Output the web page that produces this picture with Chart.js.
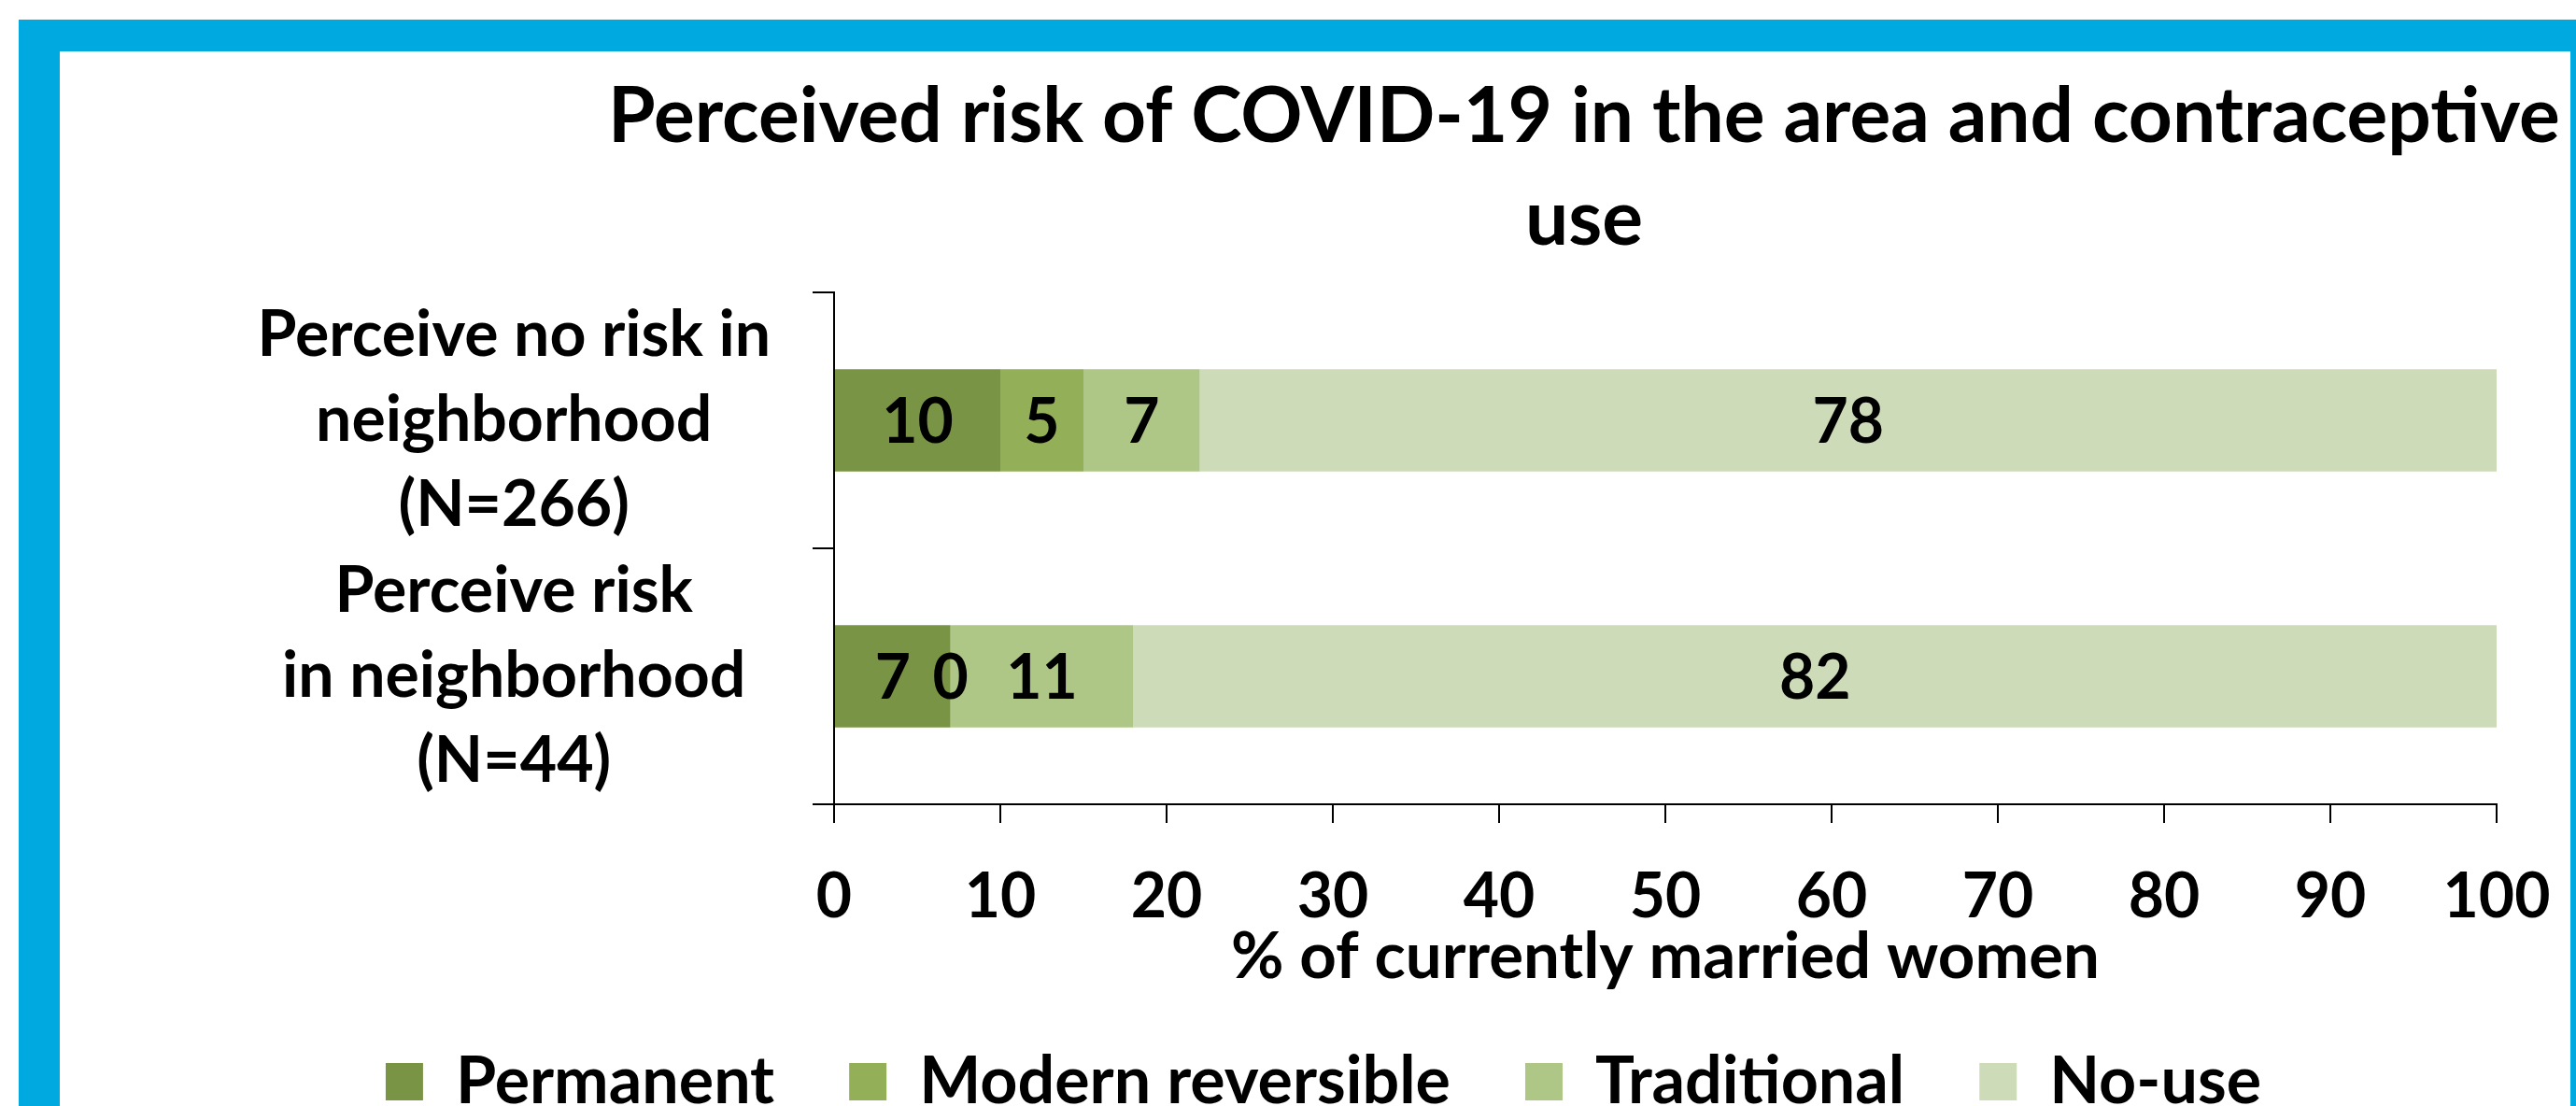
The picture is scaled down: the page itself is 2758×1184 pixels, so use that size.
<!DOCTYPE html>
<html>
<head>
<meta charset="utf-8">
<title>Perceived risk of COVID-19 in the area and contraceptive use</title>
<script src="https://cdn.jsdelivr.net/npm/chart.js@4.4.0/dist/chart.umd.min.js"></script>
<style>
  html, body { margin: 0; padding: 0; background: #fff; overflow: hidden; }
  body { width: 2758px; height: 1184px; position: relative; }
  #frame {
    position: absolute; left: 20px; top: 21px;
    width: 2688px; height: 1300px;
    border-style: solid; border-color: #00a9e0;
    border-width: 34px 44px 0 44px;
  }
  #chart-box { position: absolute; left: 64px; top: 55px; width: 2688px; height: 1148px; }
</style>
</head>
<body>
<div id="frame"></div>
<div id="chart-box"><canvas id="riskChart"></canvas></div>
<script>
const titleLines = ['Perceived risk of COVID-19 in the area and contraceptive', 'use'];
const categories = [
    ['Perceive no risk in', 'neighborhood', '(N=266)'],
    ['Perceive risk', 'in neighborhood', '(N=44)']
];
const seriesNames = ['Permanent', 'Modern reversible', 'Traditional', 'No-use'];
const permanent = [10, 7];
const modernReversible = [5, 0];
const traditional = [7, 11];
const noUse = [78, 82];
const xMin = 0;
const xMax = 100;
const xStep = 10;
const axisTitle = '% of currently married women';

const colors = ['#7a9445', '#93af58', '#aec786', '#cddbb8'];
const fontFamily = 'Lato, "Open Sans", sans-serif';

// title is centred a bit right of the canvas middle, like the original
const chartTitle = {
    id: 'chartTitle',
    afterDraw(chart) {
        const ctx = chart.ctx;
        ctx.save();
        ctx.font = `bold 82px ${fontFamily}`;
        ctx.fillStyle = '#000';
        ctx.textAlign = 'center';
        ctx.textBaseline = 'alphabetic';
        ctx.fillText(titleLines[0], 1632, 97);
        ctx.fillText(titleLines[1], 1632, 207);
        ctx.restore();
    }
};

// value written in the middle of every segment, zeros included
const valueLabels = {
    id: 'valueLabels',
    afterDatasetsDraw(chart) {
        const ctx = chart.ctx;
        ctx.save();
        ctx.font = `bold 66px ${fontFamily}`;
        ctx.fillStyle = '#000';
        ctx.textAlign = 'center';
        ctx.textBaseline = 'middle';
        chart.data.datasets.forEach((ds, i) => {
            chart.getDatasetMeta(i).data.forEach((bar, j) => {
                const p = bar.getProps(['x', 'y', 'base'], true);
                ctx.fillText(String(ds.data[j]), (p.x + p.base) / 2, p.y + 3);
            });
        });
        ctx.restore();
    }
};

const seriesData = [permanent, modernReversible, traditional, noUse];

const ctx = document.getElementById('riskChart').getContext('2d');
new Chart(ctx, {
    type: 'bar',
    data: {
        labels: categories,
        datasets: seriesNames.map((name, i) => ({
            label: name,
            data: seriesData[i],
            backgroundColor: colors[i],
            borderWidth: 0,
            categoryPercentage: 0.8,
            barPercentage: 0.5
        }))
    },
    options: {
        indexAxis: 'y',
        responsive: true,
        maintainAspectRatio: false,
        animation: false,
        layout: { padding: { top: 258, left: 73, right: 55, bottom: 0 } },
        scales: {
            x: {
                stacked: true,
                min: xMin,
                max: xMax,
                afterFit: (scale) => {
                    scale.height = 182;
                    scale.paddingRight = 79;
                },
                ticks: {
                    stepSize: xStep,
                    color: '#000',
                    padding: 40,
                    font: { family: fontFamily, size: 66, weight: 'bold' }
                },
                grid: { drawOnChartArea: false, tickLength: 20, color: '#000', lineWidth: 2 },
                border: { color: '#000', width: 2 },
                title: {
                    display: true,
                    text: axisTitle,
                    color: '#000',
                    padding: { top: 0, bottom: -23 },
                    font: { family: fontFamily, size: 69, weight: 'bold', lineHeight: 1.2 }
                }
            },
            y: {
                stacked: true,
                afterFit: (scale) => { scale.width = 756; },
                ticks: {
                    autoSkip: false,
                    color: '#000',
                    padding: 45,
                    crossAlign: 'center',
                    font: { family: fontFamily, size: 68, weight: 'bold', lineHeight: 1.34 }
                },
                grid: { drawOnChartArea: false, tickLength: 23, color: '#000', lineWidth: 2, offset: true },
                border: { color: '#000', width: 2 }
            }
        },
        plugins: {
            legend: {
                position: 'bottom',
                labels: {
                    boxWidth: 40,
                    boxHeight: 40,
                    padding: 80,
                    color: '#000',
                    font: { family: fontFamily, size: 70, weight: 'bold' }
                }
            },
            tooltip: { enabled: false }
        }
    },
    plugins: [chartTitle, valueLabels]
});
</script>
</body>
</html>
